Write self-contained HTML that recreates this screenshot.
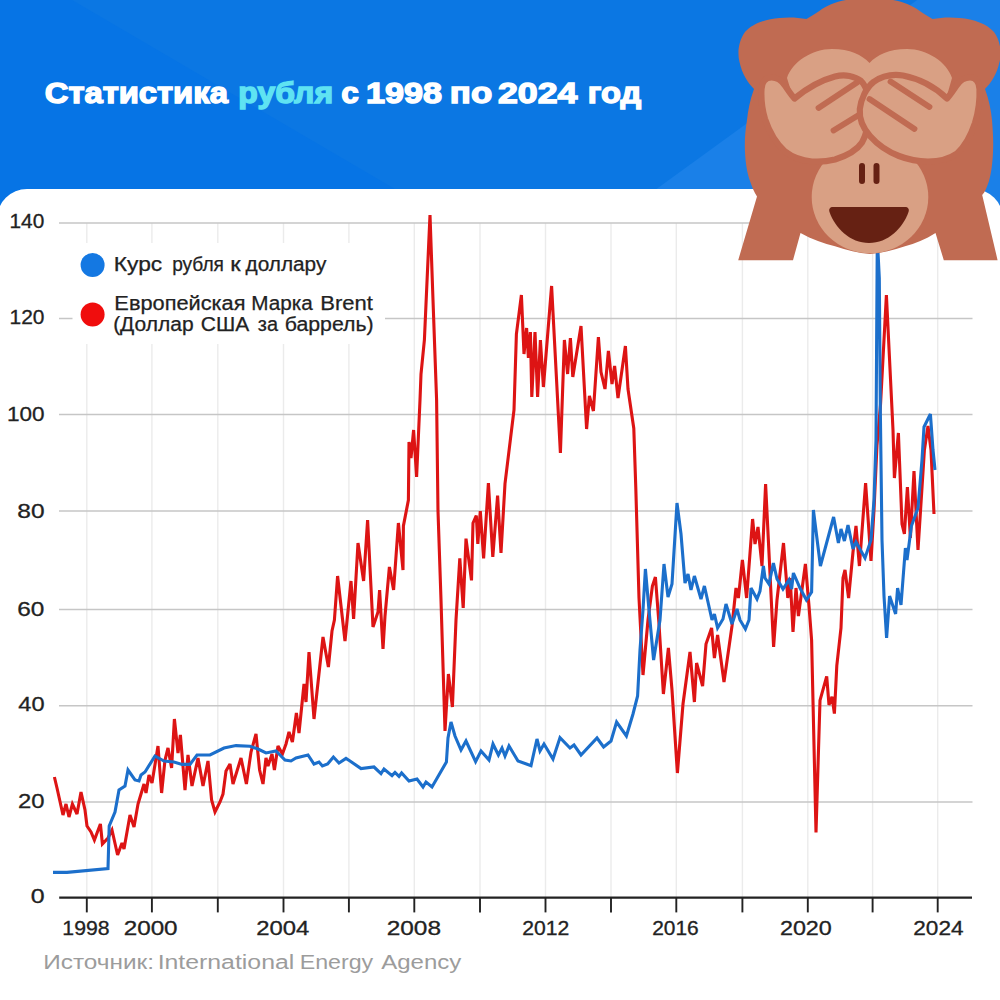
<!DOCTYPE html>
<html><head><meta charset="utf-8"><title>chart</title>
<style>
html,body{margin:0;padding:0;}
body{width:1000px;height:1000px;overflow:hidden;background:#0b77e3;font-family:"Liberation Sans", sans-serif;}
svg{display:block;position:absolute;left:0;top:0;}
text{font-family:"Liberation Sans", sans-serif;}
</style></head><body>
<svg width="1000" height="1000" viewBox="0 0 1000 1000">

<rect x="0" y="0" width="1000" height="1000" fill="#0b77e3"/>
<polygon points="0,0 72,0 400,192 400,230 0,230" fill="#0674e5"/>
<polygon points="600,230 746,124 1000,-60 1000,230" fill="#1a80e8"/>
<path d="M-3,1000 L-3,219 A30,30 0 0 1 27,189 L973,189 A30,30 0 0 1 1003,219 L1003,1000 Z" fill="#ffffff"/>
<line x1="86.8" y1="223" x2="86.8" y2="897" stroke="#ebebeb" stroke-width="1.4"/>
<line x1="151.9" y1="223" x2="151.9" y2="897" stroke="#ebebeb" stroke-width="1.4"/>
<line x1="217.8" y1="223" x2="217.8" y2="897" stroke="#ebebeb" stroke-width="1.4"/>
<line x1="283.5" y1="223" x2="283.5" y2="897" stroke="#ebebeb" stroke-width="1.4"/>
<line x1="348.9" y1="223" x2="348.9" y2="897" stroke="#ebebeb" stroke-width="1.4"/>
<line x1="414.3" y1="223" x2="414.3" y2="897" stroke="#ebebeb" stroke-width="1.4"/>
<line x1="480.0" y1="223" x2="480.0" y2="897" stroke="#ebebeb" stroke-width="1.4"/>
<line x1="545.5" y1="223" x2="545.5" y2="897" stroke="#ebebeb" stroke-width="1.4"/>
<line x1="611.0" y1="223" x2="611.0" y2="897" stroke="#ebebeb" stroke-width="1.4"/>
<line x1="676.3" y1="223" x2="676.3" y2="897" stroke="#ebebeb" stroke-width="1.4"/>
<line x1="742.4" y1="223" x2="742.4" y2="897" stroke="#ebebeb" stroke-width="1.4"/>
<line x1="807.8" y1="223" x2="807.8" y2="897" stroke="#ebebeb" stroke-width="1.4"/>
<line x1="872.6" y1="223" x2="872.6" y2="897" stroke="#ebebeb" stroke-width="1.4"/>
<line x1="937.7" y1="223" x2="937.7" y2="897" stroke="#ebebeb" stroke-width="1.4"/>
<line x1="59" y1="223" x2="972.5" y2="223" stroke="#c6c6c6" stroke-width="1.5"/>
<line x1="59" y1="318.6" x2="972.5" y2="318.6" stroke="#c6c6c6" stroke-width="1.5"/>
<line x1="59" y1="414.6" x2="972.5" y2="414.6" stroke="#c6c6c6" stroke-width="1.5"/>
<line x1="59" y1="511" x2="972.5" y2="511" stroke="#c6c6c6" stroke-width="1.5"/>
<line x1="59" y1="609.6" x2="972.5" y2="609.6" stroke="#c6c6c6" stroke-width="1.5"/>
<line x1="59" y1="705.8" x2="972.5" y2="705.8" stroke="#c6c6c6" stroke-width="1.5"/>
<line x1="59" y1="802" x2="972.5" y2="802" stroke="#c6c6c6" stroke-width="1.5"/>
<rect x="72.5" y="243" width="312.5" height="101" fill="#ffffff"/>
<polyline points="54.4,777.0 57.0,788.0 63.0,815.0 66.0,804.0 69.0,817.0 72.4,804.0 77.0,814.0 81.0,792.0 85.0,810.0 87.0,826.0 91.0,832.0 94.4,840.0 100.4,824.0 102.4,844.0 108.0,838.0 112.0,830.0 117.6,855.0 122.0,843.0 124.0,849.0 130.0,815.0 134.0,827.0 138.0,804.0 144.0,784.0 146.0,793.0 149.0,775.0 152.0,783.0 158.0,746.0 161.6,793.0 165.0,760.0 168.0,748.0 171.6,768.0 174.4,719.0 178.0,753.0 180.4,735.0 185.0,790.0 188.0,755.0 192.0,786.0 198.0,758.0 203.0,786.0 208.0,761.0 211.6,800.0 215.0,812.0 220.0,802.0 223.0,794.0 226.0,771.0 230.0,764.0 233.0,784.0 241.0,758.0 246.4,784.0 251.0,752.0 256.0,734.0 259.6,770.0 263.0,784.0 266.0,758.0 268.0,766.0 272.0,754.0 274.4,770.0 278.0,746.0 282.4,754.0 286.0,744.0 289.0,732.0 292.4,742.0 296.4,713.0 299.0,733.0 304.0,684.0 306.0,702.0 309.0,652.0 314.0,719.0 323.0,637.0 328.4,667.0 332.0,631.0 334.4,620.0 337.6,576.0 345.0,641.0 351.0,581.0 353.6,619.0 358.0,543.0 363.6,581.0 367.6,520.0 373.0,627.0 378.0,612.0 379.6,590.0 383.0,649.0 385.0,616.0 389.4,567.0 393.6,590.0 398.4,523.0 403.0,570.0 403.4,526.0 408.4,500.0 409.0,442.0 411.0,458.0 413.6,430.0 416.6,477.0 420.0,400.0 421.0,374.0 424.4,340.0 426.0,304.0 430.0,215.0 433.0,300.0 436.6,400.0 438.0,511.0 441.0,600.0 445.0,731.0 448.4,674.0 452.4,707.0 456.0,620.0 459.8,558.4 463.2,608.0 466.0,538.6 471.5,580.4 473.0,523.0 476.3,515.5 477.8,544.0 480.3,511.0 483.6,558.4 488.4,483.0 492.8,557.0 497.6,495.7 501.0,553.0 505.0,483.6 514.0,410.0 516.4,334.0 521.4,295.0 524.0,354.0 526.6,328.0 528.4,358.0 530.4,332.0 531.8,397.0 535.0,332.0 537.6,397.0 540.4,340.0 543.4,387.0 551.6,286.0 560.4,453.0 564.4,340.0 567.6,374.0 570.4,338.0 572.8,377.0 581.0,326.0 586.6,429.0 589.4,396.0 593.4,411.0 598.4,337.0 601.0,372.0 605.0,389.0 608.4,351.0 612.0,384.0 614.6,366.0 618.0,398.0 625.4,346.0 628.0,389.0 633.8,428.5 635.8,488.0 639.0,598.0 643.0,675.0 648.0,620.0 652.4,586.0 655.4,577.0 659.0,624.0 663.4,694.0 668.4,648.0 672.0,690.0 677.4,773.0 683.0,704.0 690.0,652.0 694.4,702.0 696.6,663.0 702.6,686.0 706.0,644.0 711.6,628.0 714.4,658.0 717.6,635.0 724.0,682.0 732.0,626.0 736.0,588.0 738.4,598.0 742.4,560.0 746.6,598.0 752.6,519.0 755.0,544.0 758.0,527.0 762.0,566.0 765.6,484.0 773.6,647.0 777.0,600.0 783.5,543.0 787.8,598.0 790.2,578.0 793.0,632.0 796.0,588.0 798.4,616.0 805.4,564.0 809.0,606.0 811.6,640.0 816.0,832.4 820.0,700.4 826.7,676.4 829.0,705.0 832.0,696.8 834.4,713.6 836.8,665.6 841.0,628.0 843.0,578.0 845.0,570.0 848.6,598.0 853.0,552.0 856.0,526.0 859.4,566.0 865.6,483.0 871.0,561.0 874.0,510.0 877.0,445.0 880.5,405.0 886.4,295.0 893.0,430.0 894.4,478.0 898.4,433.0 902.0,524.0 904.4,534.0 907.4,487.0 910.4,538.0 914.0,471.0 918.0,550.0 924.4,450.0 928.0,426.0 931.0,450.0 934.0,514.0" fill="none" stroke="#dd1414" stroke-width="3.1" stroke-linejoin="miter" stroke-miterlimit="3" stroke-linecap="butt"/>
<polyline points="53.0,872.4 67.0,872.4 108.0,868.6 109.2,826.0 115.0,812.0 119.0,790.0 125.0,786.0 128.0,770.0 135.0,780.0 139.0,781.0 141.0,775.0 145.0,772.0 155.0,756.0 164.0,761.0 174.0,762.0 182.0,764.4 190.0,764.4 197.0,755.0 210.0,755.0 224.0,748.0 236.0,745.6 250.0,746.2 258.0,749.0 266.0,753.0 276.0,751.0 279.0,754.0 285.0,760.0 291.0,761.0 296.0,758.0 308.0,755.0 314.0,764.0 319.0,762.0 322.4,766.0 327.6,764.0 333.4,757.0 339.0,763.0 346.0,758.4 350.0,761.0 361.0,768.6 374.0,767.0 381.0,773.6 384.0,769.0 392.0,775.6 395.0,772.4 399.0,776.4 401.6,773.0 409.0,781.0 417.0,779.0 423.0,787.0 426.0,782.0 432.0,787.0 446.4,762.0 448.0,738.0 451.0,722.0 455.0,736.0 461.0,750.0 466.0,741.0 475.6,761.6 481.0,751.0 489.0,760.0 493.0,744.0 498.4,755.0 502.0,748.0 505.0,756.0 509.0,746.0 518.0,761.0 531.0,765.6 537.0,739.0 540.0,751.0 544.0,744.0 553.0,759.0 560.0,737.6 570.0,748.0 574.0,745.0 581.0,755.0 597.0,738.0 603.6,747.0 611.0,741.0 616.6,722.0 626.4,736.0 633.0,714.0 637.6,696.0 640.0,650.0 643.0,610.0 645.4,569.0 649.0,610.0 653.6,660.0 660.0,620.0 664.0,564.0 668.0,597.0 672.0,584.0 677.0,503.0 681.0,534.0 685.0,583.0 688.0,574.0 691.0,590.0 694.4,576.0 701.0,599.0 704.4,586.0 712.0,620.0 714.4,614.0 717.6,628.0 723.0,619.0 726.0,604.0 732.0,624.0 737.0,609.0 740.0,620.0 745.4,629.0 749.0,620.0 751.0,588.0 757.0,599.0 760.0,591.0 763.4,566.0 765.0,578.0 769.0,584.0 773.4,563.0 777.0,579.0 783.0,589.0 789.0,580.0 791.6,589.0 793.4,573.0 800.0,588.0 806.4,600.0 811.6,592.0 813.4,510.0 820.4,566.0 833.6,517.0 838.4,543.0 841.0,529.0 844.4,541.0 848.0,525.0 853.0,549.0 856.0,542.0 865.0,558.0 871.0,540.0 874.0,500.0 876.0,440.0 877.3,238.0 879.3,278.0 880.3,408.0 882.0,540.0 884.0,596.0 886.6,638.0 889.6,596.0 895.6,614.0 897.6,588.0 901.0,605.0 905.4,548.0 907.0,560.0 911.4,526.0 918.0,508.0 922.0,460.0 924.0,427.0 930.4,414.0 933.0,450.0 935.0,470.0" fill="none" stroke="#1c6fcb" stroke-width="3.1" stroke-linejoin="miter" stroke-miterlimit="3" stroke-linecap="butt"/>
<line x1="59.2" y1="897.6" x2="972" y2="897.6" stroke="#222" stroke-width="2.4"/>
<line x1="86.8" y1="897.5" x2="86.8" y2="912.4" stroke="#222" stroke-width="1.9"/>
<line x1="151.9" y1="897.5" x2="151.9" y2="912.4" stroke="#222" stroke-width="1.9"/>
<line x1="217.8" y1="897.5" x2="217.8" y2="912.4" stroke="#222" stroke-width="1.9"/>
<line x1="283.5" y1="897.5" x2="283.5" y2="912.4" stroke="#222" stroke-width="1.9"/>
<line x1="348.9" y1="897.5" x2="348.9" y2="912.4" stroke="#222" stroke-width="1.9"/>
<line x1="414.3" y1="897.5" x2="414.3" y2="912.4" stroke="#222" stroke-width="1.9"/>
<line x1="480.0" y1="897.5" x2="480.0" y2="912.4" stroke="#222" stroke-width="1.9"/>
<line x1="545.5" y1="897.5" x2="545.5" y2="912.4" stroke="#222" stroke-width="1.9"/>
<line x1="611.0" y1="897.5" x2="611.0" y2="912.4" stroke="#222" stroke-width="1.9"/>
<line x1="676.3" y1="897.5" x2="676.3" y2="912.4" stroke="#222" stroke-width="1.9"/>
<line x1="742.4" y1="897.5" x2="742.4" y2="912.4" stroke="#222" stroke-width="1.9"/>
<line x1="807.8" y1="897.5" x2="807.8" y2="912.4" stroke="#222" stroke-width="1.9"/>
<line x1="872.6" y1="897.5" x2="872.6" y2="912.4" stroke="#222" stroke-width="1.9"/>
<line x1="937.7" y1="897.5" x2="937.7" y2="912.4" stroke="#222" stroke-width="1.9"/>
<text x="9.52" y="228.0" font-size="20.5" font-weight="normal" fill="#222" stroke="#222" stroke-width="0.3" textLength="34.78" lengthAdjust="spacingAndGlyphs">140</text>
<text x="9.53" y="324.4" font-size="20.5" font-weight="normal" fill="#222" stroke="#222" stroke-width="0.3" textLength="34.94" lengthAdjust="spacingAndGlyphs">120</text>
<text x="6.94" y="421.1" font-size="20.5" font-weight="normal" fill="#222" stroke="#222" stroke-width="0.3" textLength="37.61" lengthAdjust="spacingAndGlyphs">100</text>
<text x="17.37" y="517.6" font-size="20.5" font-weight="normal" fill="#222" stroke="#222" stroke-width="0.3" textLength="27.25" lengthAdjust="spacingAndGlyphs">80</text>
<text x="17.22" y="616.0" font-size="20.5" font-weight="normal" fill="#222" stroke="#222" stroke-width="0.3" textLength="27.14" lengthAdjust="spacingAndGlyphs">60</text>
<text x="18.26" y="711.1" font-size="20.5" font-weight="normal" fill="#222" stroke="#222" stroke-width="0.3" textLength="26.27" lengthAdjust="spacingAndGlyphs">40</text>
<text x="18.11" y="807.9" font-size="20.5" font-weight="normal" fill="#222" stroke="#222" stroke-width="0.3" textLength="26.50" lengthAdjust="spacingAndGlyphs">20</text>
<text x="30.79" y="903.2" font-size="20.5" font-weight="normal" fill="#222" stroke="#222" stroke-width="0.3" textLength="13.88" lengthAdjust="spacingAndGlyphs">0</text>
<text x="62.32" y="934.9" font-size="20" font-weight="normal" fill="#222" stroke="#222" stroke-width="0.3" textLength="47.29" lengthAdjust="spacingAndGlyphs">1998</text>
<text x="123.67" y="934.9" font-size="20" font-weight="normal" fill="#222" stroke="#222" stroke-width="0.3" textLength="53.96" lengthAdjust="spacingAndGlyphs">2000</text>
<text x="256.30" y="934.9" font-size="20" font-weight="normal" fill="#222" stroke="#222" stroke-width="0.3" textLength="53.08" lengthAdjust="spacingAndGlyphs">2004</text>
<text x="386.67" y="934.9" font-size="20" font-weight="normal" fill="#222" stroke="#222" stroke-width="0.3" textLength="54.34" lengthAdjust="spacingAndGlyphs">2008</text>
<text x="522.33" y="934.9" font-size="20" font-weight="normal" fill="#222" stroke="#222" stroke-width="0.3" textLength="47.05" lengthAdjust="spacingAndGlyphs">2012</text>
<text x="652.20" y="934.9" font-size="20" font-weight="normal" fill="#222" stroke="#222" stroke-width="0.3" textLength="46.55" lengthAdjust="spacingAndGlyphs">2016</text>
<text x="779.90" y="934.9" font-size="20" font-weight="normal" fill="#222" stroke="#222" stroke-width="0.3" textLength="51.96" lengthAdjust="spacingAndGlyphs">2020</text>
<text x="913.32" y="934.9" font-size="20" font-weight="normal" fill="#222" stroke="#222" stroke-width="0.3" textLength="50.22" lengthAdjust="spacingAndGlyphs">2024</text>
<text x="43.25" y="969.4" font-size="20" font-weight="normal" fill="#9c9c9c"  textLength="110.77" lengthAdjust="spacingAndGlyphs">Источник:</text>
<text x="157.65" y="969.4" font-size="20" font-weight="normal" fill="#9c9c9c"  textLength="136.64" lengthAdjust="spacingAndGlyphs">International</text>
<text x="299.77" y="969.4" font-size="20" font-weight="normal" fill="#9c9c9c"  textLength="73.45" lengthAdjust="spacingAndGlyphs">Energy</text>
<text x="381.23" y="969.4" font-size="20" font-weight="normal" fill="#9c9c9c"  textLength="80.05" lengthAdjust="spacingAndGlyphs">Agency</text>
<text x="113.73" y="270.6" font-size="19.5" font-weight="normal" fill="#222" stroke="#222" stroke-width="0.25" textLength="48.50" lengthAdjust="spacingAndGlyphs">Курс</text>
<text x="172.19" y="270.6" font-size="19.5" font-weight="normal" fill="#222" stroke="#222" stroke-width="0.25" textLength="51.78" lengthAdjust="spacingAndGlyphs">рубля</text>
<text x="230.16" y="270.6" font-size="19.5" font-weight="normal" fill="#222" stroke="#222" stroke-width="0.25" textLength="10.38" lengthAdjust="spacingAndGlyphs">к</text>
<text x="245.61" y="270.6" font-size="19.5" font-weight="normal" fill="#222" stroke="#222" stroke-width="0.25" textLength="80.73" lengthAdjust="spacingAndGlyphs">доллару</text>
<text x="114.39" y="310.4" font-size="19.5" font-weight="normal" fill="#222" stroke="#222" stroke-width="0.25" textLength="131.09" lengthAdjust="spacingAndGlyphs">Европейская</text>
<text x="251.35" y="310.4" font-size="19.5" font-weight="normal" fill="#222" stroke="#222" stroke-width="0.25" textLength="61.52" lengthAdjust="spacingAndGlyphs">Марка</text>
<text x="320.23" y="310.4" font-size="19.5" font-weight="normal" fill="#222" stroke="#222" stroke-width="0.25" textLength="52.59" lengthAdjust="spacingAndGlyphs">Brent</text>
<text x="113.15" y="330.5" font-size="19.5" font-weight="normal" fill="#222" stroke="#222" stroke-width="0.25" textLength="80.45" lengthAdjust="spacingAndGlyphs">(Доллар</text>
<text x="200.83" y="330.5" font-size="19.5" font-weight="normal" fill="#222" stroke="#222" stroke-width="0.25" textLength="48.42" lengthAdjust="spacingAndGlyphs">США</text>
<text x="257.76" y="330.5" font-size="19.5" font-weight="normal" fill="#222" stroke="#222" stroke-width="0.25" textLength="20.23" lengthAdjust="spacingAndGlyphs">за</text>
<text x="284.69" y="330.5" font-size="19.5" font-weight="normal" fill="#222" stroke="#222" stroke-width="0.25" textLength="89.00" lengthAdjust="spacingAndGlyphs">баррель)</text>
<text x="44.76" y="103.0" font-size="29.5" font-weight="bold" fill="#fff" stroke="#fff" stroke-width="1.4" textLength="183.12" lengthAdjust="spacingAndGlyphs">Статистика</text>
<text x="238.38" y="103.0" font-size="29.5" font-weight="bold" fill="#5fe3f2" stroke="#5fe3f2" stroke-width="1.4" textLength="94.63" lengthAdjust="spacingAndGlyphs">рубля</text>
<text x="341.15" y="103.0" font-size="29.5" font-weight="bold" fill="#fff" stroke="#fff" stroke-width="1.4" textLength="17.56" lengthAdjust="spacingAndGlyphs">с</text>
<text x="366.10" y="103.0" font-size="29.5" font-weight="bold" fill="#fff" stroke="#fff" stroke-width="1.4" textLength="75.95" lengthAdjust="spacingAndGlyphs">1998</text>
<text x="449.86" y="103.0" font-size="29.5" font-weight="bold" fill="#fff" stroke="#fff" stroke-width="1.4" textLength="42.30" lengthAdjust="spacingAndGlyphs">по</text>
<text x="497.93" y="103.0" font-size="29.5" font-weight="bold" fill="#fff" stroke="#fff" stroke-width="1.4" textLength="79.44" lengthAdjust="spacingAndGlyphs">2024</text>
<text x="587.82" y="103.0" font-size="29.5" font-weight="bold" fill="#fff" stroke="#fff" stroke-width="1.4" textLength="53.35" lengthAdjust="spacingAndGlyphs">год</text>
<circle cx="92.6" cy="265.1" r="12" fill="#1478e2"/>
<circle cx="92.6" cy="314.4" r="12" fill="#f00d0d"/>
<g id="monkey">
<!-- body -->
<path fill="#c06b52" d="M846,0 C835,2 826,6 820,10.5 C815,14 810,17 806.5,19 C798,17.5 789,17 779.5,18 C765,19 752,24 745,32 C739,40 737,52 739.5,62 C742,74 748,83 754,89 C750,100 748,110 747,120 C745,132 744.5,142 745,152 C745.5,164 747.5,174 750,181 C752,187 754,192 757,196.5 L738.2,260.2 L793,260.2 L800.5,233 C812,239.3 824,243.8 835,246.3 C847,250.3 858,253 870,254 C882,253 893,250.3 905,246.3 C915,243.8 925.5,239.3 935.5,233 L943.8,260.2 L997.6,260.2 L982.2,195 C985,192 987,187 989,181 C991,174 992.5,164 993,152 C993.5,142 993,132 992,120 C991,110 989,100 985,89 C991,83 997,74 999.5,62 C1002,52 1000,40 994,32 C987,24 974,19 959.5,18 C950,17 941,17.5 932.5,19 C929,17 924,14 919,10.5 C913,6 904,2 893,0 Z"/>
<!-- face plate (bumps) -->
<path fill="#d9a084" d="M787,78 C792,62 812,49 832,49 C850,49 862,55 869.5,63 C877,55 889,49 907,49 C927,49 947,62 952,78 L940,120 L869.5,150 L800,120 Z"/>
<!-- muzzle -->
<ellipse cx="870" cy="197" rx="58.3" ry="56.3" fill="#d9a084"/>
<!-- left hand -->
<path fill="#d9a084" stroke="#c06b52" stroke-width="6.2" stroke-linejoin="round" d="M794.5,98.5 C806,89 820,80.5 835,76.5 C845,74 855,76 861,81 C867,86.5 870,100 869,112 C868.5,124 867,134 862,142.5 C857,150 846,156 835,159.5 C827,161.5 819,162 812,161.5 C801,160.5 792,157 785,151.5 C776,143.5 769,131 765,119 C762,109 761,98 761.5,89 C762,81 766,77.5 771.5,77.5 C777.5,77.5 781.5,80.5 784.5,85 C788,90 791.5,95.5 794.5,98.5 Z"/>
<line x1="818.5" y1="108" x2="857" y2="82.5" stroke="#c06b52" stroke-width="5.8" stroke-linecap="round"/>
<line x1="833.5" y1="130.5" x2="862" y2="113" stroke="#c06b52" stroke-width="5.8" stroke-linecap="round"/>
<!-- right hand -->
<path fill="#d9a084" stroke="#c06b52" stroke-width="6.2" stroke-linejoin="round" d="M947,98.5 C936,88 921,79 903,75.5 C893,74 882,76 873.5,82 C866,88 861,99 859.8,109 C859,119 863,128 870,136 C877,144 886,151 899,156 C908,159.5 918,161.5 928,161.5 C940,161.5 950,158.5 957,153.5 C965,146.5 971,135 975,123 C978,113 980,100 979.5,89 C979,81 975.5,77.5 970,77.5 C964,77.5 960,80.5 957,85 C953.5,90 950,95.5 947,98.5 Z"/>
<line x1="890.5" y1="81.5" x2="929.5" y2="107" stroke="#c06b52" stroke-width="5.8" stroke-linecap="round"/>
<line x1="869.5" y1="99" x2="914.5" y2="129" stroke="#c06b52" stroke-width="5.8" stroke-linecap="round"/>
<!-- nostrils -->
<line x1="862" y1="166" x2="862" y2="181" stroke="#662113" stroke-width="6" stroke-linecap="round"/>
<line x1="876.5" y1="166" x2="876.5" y2="181" stroke="#662113" stroke-width="6" stroke-linecap="round"/>
<!-- mouth -->
<path fill="#662113" d="M833,207 L905,207 C908,207 909.5,209 908.5,212 C903,228 888,243 869,243 C850,243 835,228 829.5,212 C828.5,209 830,207 833,207 Z"/>
</g>

</svg></body></html>
